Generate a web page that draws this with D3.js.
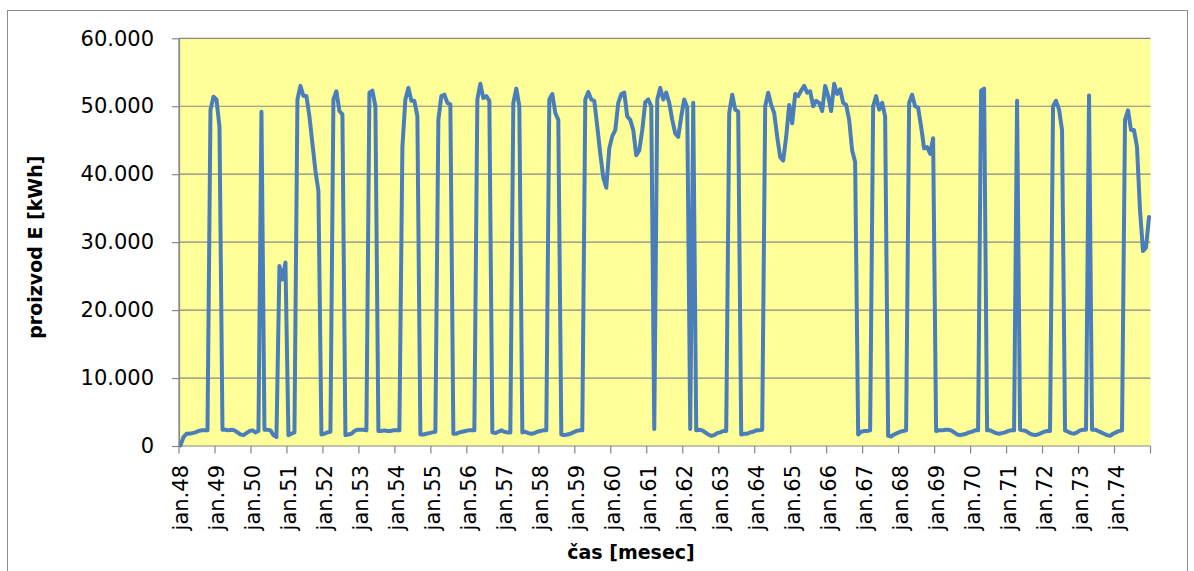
<!DOCTYPE html>
<html><head><meta charset="utf-8">
<script src="https://cdn.jsdelivr.net/npm/d3@7/dist/d3.min.js"></script>
<style>
html,body{margin:0;padding:0;background:#fff;}
svg{display:block;}
text{font-family:"DejaVu Sans",sans-serif;fill:#000;}
</style></head><body>
<svg id="chart" width="1194" height="571"></svg>
<script>
// ---- data ----
const yearLabels = ["jan.48","jan.49","jan.50","jan.51","jan.52","jan.53","jan.54","jan.55","jan.56",
  "jan.57","jan.58","jan.59","jan.60","jan.61","jan.62","jan.63","jan.64","jan.65","jan.66","jan.67",
  "jan.68","jan.69","jan.70","jan.71","jan.72","jan.73","jan.74"];
const monthsPerYear = 12;
// monthly production E [kWh], jan.48 ... dec.74
const production = [
  100,1300,1800,1800,1900,2000,2200,2300,2300,2300,49500,51400,
  51000,47000,2400,2400,2300,2400,2300,2000,1700,1600,1900,2200,
  2300,2000,2200,49200,2400,2400,2300,1600,1300,26500,24500,27000,
  1600,1800,2000,51000,53000,51500,51500,48500,44500,40500,37500,1700,
  1800,2000,2100,51000,52200,49300,48800,1600,1700,1800,2200,2400,
  2400,2400,2300,52000,52300,50000,2200,2200,2300,2200,2200,2300,
  2300,2300,44000,51000,52700,50800,50800,48500,1700,1700,1800,1900,
  2000,2100,48000,51500,51700,50500,50300,1800,1800,2000,2100,2200,
  2300,2300,2300,51000,53300,51200,51500,50800,2000,1900,2100,2300,
  2100,2000,2000,50500,52600,50000,2000,2100,1900,1800,1900,2100,
  2200,2300,2300,51000,51800,49000,48000,1700,1600,1700,1800,2000,
  2200,2300,2300,51000,52100,51000,50800,47000,43000,39500,38000,43800,
  45600,46500,50500,51800,52000,48500,48000,46500,42800,43500,46500,50600,
  51000,50000,2500,51000,52700,51000,52000,50500,48000,46000,45500,48500,
  51000,49800,2500,50500,2300,2400,2300,2000,1700,1500,1600,1900,
  2000,2200,2200,49000,51700,49500,49200,1700,1800,1800,2000,2100,
  2300,2300,2400,50000,52000,50200,49000,45500,42500,42000,45500,50200,
  47500,51800,51500,52300,53000,52000,52200,50000,50800,50500,49300,53000,
  51500,49300,53300,51800,52500,50500,50200,48000,43500,41800,1700,2100,
  2200,2200,2300,50000,51500,49500,50500,48500,1500,1400,1700,1900,
  2100,2200,2300,50500,51700,50000,49800,47000,43800,44000,43000,45300,
  2200,2300,2300,2400,2400,2300,2000,1700,1600,1700,1800,2000,
  2100,2300,2300,52300,52600,2300,2300,2100,1900,1800,1900,2000,
  2200,2300,2300,50800,2400,2300,2200,1900,1700,1600,1700,1900,
  2100,2200,2200,50000,50800,49500,46500,2300,2100,1900,1800,2000,
  2300,2400,2400,51600,2400,2400,2200,2000,1800,1600,1500,1800,
  2000,2200,2300,48000,49400,46500,46500,44000,34700,28700,29200,33700
];
const yTickValues = [0,10000,20000,30000,40000,50000,60000];
const yTickLabels = ["0","10.000","20.000","30.000","40.000","50.000","60.000"];
const yTitle = "proizvod E [kWh]";
const xTitle = "čas [mesec]";

// ---- layout ----
const W = 1194, H = 571;
const plot = {left:179, right:1150.5, top:38.3, bottom:446};
const svg = d3.select("#chart");

// chart border
svg.append("rect").attr("x",7.5).attr("y",10.5).attr("width",1180).attr("height",575)
  .attr("fill","#fff").attr("stroke","#8c8c8c").attr("stroke-width",1);

const months = d3.range(production.length);
const x = d3.scaleBand().domain(months).range([plot.left, plot.right]).padding(0);
const y = d3.scaleLinear().domain([0,60000]).range([plot.bottom, plot.top]);
const cx = i => x(i) + x.bandwidth()/2;

// plot area background
svg.append("rect").attr("x",plot.left).attr("y",plot.top)
  .attr("width",plot.right-plot.left).attr("height",plot.bottom-plot.top)
  .attr("fill","#FFFF99");

// gridlines
svg.append("g").selectAll("line").data(yTickValues.filter(v=>v>0)).join("line")
  .attr("x1",plot.left).attr("x2",plot.right)
  .attr("y1",d=>y(d)).attr("y2",d=>y(d))
  .attr("stroke","#878787").attr("stroke-width",1.2);

// y axis
const yAxis = d3.axisLeft(y).tickValues(yTickValues)
  .tickFormat((d,i)=>yTickLabels[i]).tickSizeOuter(0).tickSizeInner(7).tickPadding(18);
const gy = svg.append("g").attr("transform",`translate(${plot.left},0)`).call(yAxis);
gy.selectAll("line,path").attr("stroke","#878787").attr("stroke-width",1.2);
gy.selectAll("text").style("font-family","DejaVu Sans").style("font-size","21px").attr("fill","#000");

// x axis: ticks at year boundaries
const yearStarts = yearLabels.map((d,i)=>i*monthsPerYear);
const tickXs = yearStarts.map(i=>x(i)).concat([plot.right]);
const gx = svg.append("g");
gx.append("line").attr("x1",plot.left).attr("x2",plot.right)
  .attr("y1",plot.bottom).attr("y2",plot.bottom).attr("stroke","#878787").attr("stroke-width",1.2);
gx.selectAll("line.tk").data(tickXs).join("line").attr("class","tk")
  .attr("x1",d=>d).attr("x2",d=>d).attr("y1",plot.bottom).attr("y2",plot.bottom+7.5)
  .attr("stroke","#878787").attr("stroke-width",1.2);
gx.selectAll("text").data(yearLabels).join("text")
  .attr("transform",(d,i)=>`translate(${cx(yearStarts[i])},${plot.bottom+19}) rotate(-90)`)
  .attr("text-anchor","end").attr("dy","0.36em")
  .style("font-size","21px").text(d=>d);

// series line
const line = d3.line().x((d,i)=>cx(i)).y(d=>y(d));
svg.append("path").datum(production).attr("d",line)
  .attr("fill","none").attr("stroke","#4A7EBB").attr("stroke-width",4)
  .attr("stroke-linejoin","round").attr("stroke-linecap","round");

// redraw left axis line on top area edge (axis line)
svg.append("line").attr("x1",plot.left).attr("x2",plot.left).attr("y1",plot.top).attr("y2",plot.bottom)
  .attr("stroke","#878787").attr("stroke-width",1.2);

// titles
svg.append("text").attr("transform",`translate(42,${(plot.top+plot.bottom)/2+5}) rotate(-90)`)
  .attr("text-anchor","middle").style("font-weight","bold").style("font-size","19px").text(yTitle);
svg.append("text").attr("x",631).attr("y",559)
  .attr("text-anchor","middle").style("font-weight","bold").style("font-size","19px").text(xTitle);
</script>
</body></html>
